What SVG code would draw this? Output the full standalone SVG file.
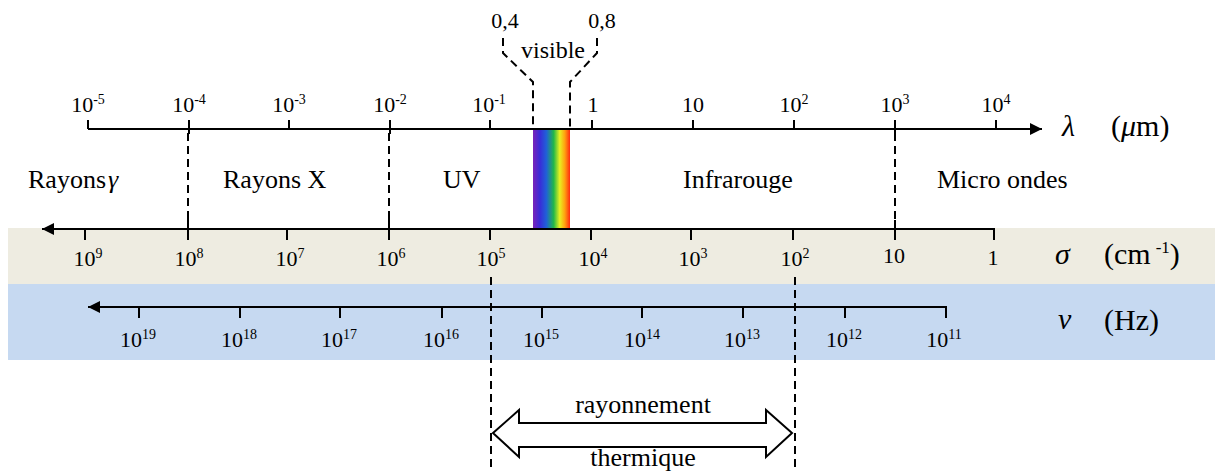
<svg xmlns="http://www.w3.org/2000/svg" width="1215" height="472" viewBox="0 0 1215 472">
  <defs>
    <style>
      text { font-family: "Liberation Serif", "Times New Roman", serif; fill: #000; }
      .tick-label { font-size: 22px; text-anchor: middle; }
      .sup { font-size: 14px; }
      .band-label { font-size: 26px; }
      .unit { font-size: 30px; }
      .sym { font-size: 30px; font-style: italic; }
      .axis { stroke: #000; stroke-width: 2; fill: none; }
      .tick { stroke: #000; stroke-width: 2; }
      .dash { stroke: #000; stroke-width: 2; stroke-dasharray: 8 5; fill: none; }
    </style>
    <marker id="arrow" markerUnits="userSpaceOnUse" markerWidth="13" markerHeight="13" refX="12" refY="6" orient="auto">
      <path d="M0,0 L12,6 L0,12 z" fill="#000"/>
    </marker>
    <linearGradient id="rainbow" x1="0" y1="0" x2="1" y2="0">
      <stop offset="0" stop-color="#7a22b8"/>
      <stop offset="0.18" stop-color="#3a2ad8"/>
      <stop offset="0.36" stop-color="#2060d8"/>
      <stop offset="0.56" stop-color="#22b848"/>
      <stop offset="0.72" stop-color="#e8f020"/>
      <stop offset="0.86" stop-color="#ffa010"/>
      <stop offset="1" stop-color="#ff2a10"/>
    </linearGradient>
  </defs>

  <rect width="1215" height="472" fill="#fff"/>

  <!-- background bands for wavenumber and frequency -->
  <g id="bands">
    <rect x="8" y="228" width="1207" height="56" fill="#eeece1"/>
    <rect x="8" y="284" width="1207" height="76" fill="#c6d9f1"/>
  </g>

  <!-- visible spectrum strip -->
  <g id="visible-strip">
    <rect x="533" y="129" width="37" height="99" fill="url(#rainbow)"/>
  </g>

  <g id="connectors">
    <!-- range boundaries -->
    <line class="dash" x1="188" y1="133" x2="188" y2="220"/>
    <line class="dash" x1="389" y1="133" x2="389" y2="220"/>
    <line class="dash" x1="895" y1="133" x2="895" y2="222"/>
    <line class="dash" x1="491" y1="277" x2="491" y2="472"/>
    <line class="dash" x1="795" y1="277" x2="795" y2="472"/>
    <!-- visible bracket -->
    <path class="dash" d="M503,38 L503,53 L533,82 L533,129"/>
    <path class="dash" d="M597,38 L597,53 L570,82 L570,129"/>
  </g>

  <!-- wavelength axis -->
  <g id="axis-lambda">
    <line class="axis" x1="88" y1="129" x2="1042" y2="129" marker-end="url(#arrow)"/>
    <g class="tick">
      <line x1="88" y1="120" x2="88" y2="129"/>
      <line x1="189" y1="120" x2="189" y2="134"/>
      <line x1="289" y1="120" x2="289" y2="129"/>
      <line x1="390" y1="120" x2="390" y2="134"/>
      <line x1="490" y1="120" x2="490" y2="129"/>
      <line x1="592" y1="120" x2="592" y2="129"/>
      <line x1="693" y1="120" x2="693" y2="129"/>
      <line x1="794" y1="120" x2="794" y2="129"/>
      <line x1="895" y1="120" x2="895" y2="134"/>
      <line x1="996" y1="120" x2="996" y2="129"/>
    </g>
    <text class="tick-label" x="88" y="112">10<tspan class="sup" dy="-8">-5</tspan></text>
    <text class="tick-label" x="189" y="112">10<tspan class="sup" dy="-8">-4</tspan></text>
    <text class="tick-label" x="289" y="112">10<tspan class="sup" dy="-8">-3</tspan></text>
    <text class="tick-label" x="390" y="112">10<tspan class="sup" dy="-8">-2</tspan></text>
    <text class="tick-label" x="489" y="112">10<tspan class="sup" dy="-8">-1</tspan></text>
    <text class="tick-label" x="593" y="112">1</text>
    <text class="tick-label" x="693" y="112">10</text>
    <text class="tick-label" x="794" y="112">10<tspan class="sup" dy="-8">2</tspan></text>
    <text class="tick-label" x="895" y="112">10<tspan class="sup" dy="-8">3</tspan></text>
    <text class="tick-label" x="996" y="112">10<tspan class="sup" dy="-8">4</tspan></text>
    <text class="sym" x="1062" y="136">λ</text>
    <text class="unit" x="1111" y="136">(<tspan font-style="italic">μ</tspan>m)</text>
  </g>

  <!-- visible range labels -->
  <g id="visible-label">
    <text class="tick-label" x="505" y="28">0,4</text>
    <text class="tick-label" x="602" y="28">0,8</text>
    <text class="tick-label" x="553" y="58" style="font-size:24px">visible</text>
  </g>

  <!-- spectral domains -->
  <g id="domain-gamma"><text class="band-label" x="28" y="188">Rayons<tspan dx="2" style="font-style:italic">γ</tspan></text></g>
  <g id="domain-x"><text class="band-label" x="223" y="188">Rayons X</text></g>
  <g id="domain-uv"><text class="band-label" x="443" y="188">UV</text></g>
  <g id="domain-ir"><text class="band-label" x="683" y="188">Infrarouge</text></g>
  <g id="domain-micro"><text class="band-label" x="937" y="188">Micro ondes</text></g>

  <!-- wavenumber axis -->
  <g id="axis-sigma">
    <line class="axis" x1="994" y1="229" x2="42" y2="229" marker-end="url(#arrow)"/>
    <g class="tick">
      <line x1="85" y1="229" x2="85" y2="240"/>
      <line x1="188" y1="219" x2="188" y2="240"/>
      <line x1="287" y1="229" x2="287" y2="240"/>
      <line x1="389" y1="219" x2="389" y2="240"/>
      <line x1="490" y1="229" x2="490" y2="240"/>
      <line x1="591" y1="229" x2="591" y2="240"/>
      <line x1="691" y1="229" x2="691" y2="240"/>
      <line x1="793" y1="229" x2="793" y2="240"/>
      <line x1="895" y1="220" x2="895" y2="240"/>
      <line x1="994" y1="228" x2="994" y2="240"/>
    </g>
    <text class="tick-label" x="88" y="266">10<tspan class="sup" dy="-8">9</tspan></text>
    <text class="tick-label" x="189" y="266">10<tspan class="sup" dy="-8">8</tspan></text>
    <text class="tick-label" x="290" y="266">10<tspan class="sup" dy="-8">7</tspan></text>
    <text class="tick-label" x="391" y="266">10<tspan class="sup" dy="-8">6</tspan></text>
    <text class="tick-label" x="491" y="266">10<tspan class="sup" dy="-8">5</tspan></text>
    <text class="tick-label" x="593" y="266">10<tspan class="sup" dy="-8">4</tspan></text>
    <text class="tick-label" x="693" y="266">10<tspan class="sup" dy="-8">3</tspan></text>
    <text class="tick-label" x="795" y="266">10<tspan class="sup" dy="-8">2</tspan></text>
    <text class="tick-label" x="894" y="263">10</text>
    <text class="tick-label" x="993" y="265">1</text>
    <text class="sym" x="1055" y="264">σ</text>
    <text class="unit" x="1104" y="264">(cm<tspan dx="5" dy="-11" style="font-size:17px">-1</tspan><tspan dy="11">)</tspan></text>
  </g>

  <!-- frequency axis -->
  <g id="axis-nu">
    <line class="axis" x1="946" y1="307" x2="88" y2="307" marker-end="url(#arrow)"/>
    <g class="tick">
      <line x1="139" y1="307" x2="139" y2="318"/>
      <line x1="240" y1="307" x2="240" y2="318"/>
      <line x1="340" y1="307" x2="340" y2="318"/>
      <line x1="442" y1="307" x2="442" y2="318"/>
      <line x1="542" y1="307" x2="542" y2="318"/>
      <line x1="642" y1="307" x2="642" y2="318"/>
      <line x1="743" y1="307" x2="743" y2="318"/>
      <line x1="845" y1="307" x2="845" y2="318"/>
      <line x1="946" y1="306" x2="946" y2="318"/>
    </g>
    <text class="tick-label" x="138" y="347">10<tspan class="sup" dy="-8">19</tspan></text>
    <text class="tick-label" x="239" y="347">10<tspan class="sup" dy="-8">18</tspan></text>
    <text class="tick-label" x="339" y="347">10<tspan class="sup" dy="-8">17</tspan></text>
    <text class="tick-label" x="441" y="347">10<tspan class="sup" dy="-8">16</tspan></text>
    <text class="tick-label" x="541" y="347">10<tspan class="sup" dy="-8">15</tspan></text>
    <text class="tick-label" x="642" y="347">10<tspan class="sup" dy="-8">14</tspan></text>
    <text class="tick-label" x="742" y="347">10<tspan class="sup" dy="-8">13</tspan></text>
    <text class="tick-label" x="844" y="347">10<tspan class="sup" dy="-8">12</tspan></text>
    <text class="tick-label" x="944" y="347">10<tspan class="sup" dy="-8">11</tspan></text>
    <text class="sym" x="1058" y="329">ν</text>
    <text class="unit" x="1104" y="330">(Hz)</text>
  </g>

  <!-- thermal radiation range -->
  <g id="thermal-range">
    <polygon points="493,433 519,410 519,423 766,423 766,410 792,433 766,457 766,447 519,447 519,457" fill="#fff" stroke="#000" stroke-width="2" stroke-linejoin="miter"/>
    <text class="band-label" x="643" y="413" text-anchor="middle">rayonnement</text>
    <text class="band-label" x="643" y="466" text-anchor="middle">thermique</text>
  </g>
</svg>
